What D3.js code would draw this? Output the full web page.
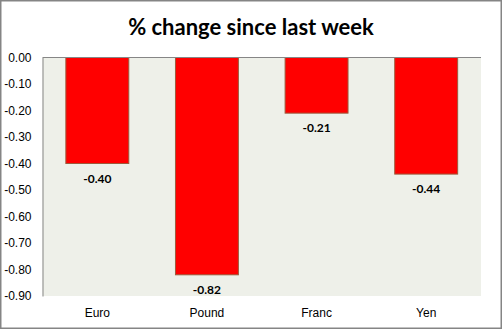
<!DOCTYPE html>
<html>
<head>
<meta charset="utf-8">
<script src="https://cdn.jsdelivr.net/npm/d3@7"></script>
<style>
  html, body { margin: 0; padding: 0; background: #fff; }
  svg { display: block; font-family: Lato, "Open Sans", "Liberation Sans", sans-serif; }
</style>
</head>
<body>
<svg id="chart" width="502" height="329"></svg>
<script>
// Weekly currency moves
const titleText = "% change since last week";
const categories = ["Euro", "Pound", "Franc", "Yen"];
const changes = [-0.40, -0.82, -0.21, -0.44];
const yTicks = [0, -0.1, -0.2, -0.3, -0.4, -0.5, -0.6, -0.7, -0.8, -0.9];

const W = 502, H = 329;
const plot = { left: 42.5, top: 57.5, right: 481, bottom: 296 };

// two decimals with a plain hyphen for negatives
const fmt = v => d3.format(".2f")(v).replace("\u2212", "-");

const svg = d3.select("#chart");

// outer frame
svg.append("rect")
  .attr("x", 0.75).attr("y", 0.75)
  .attr("width", W - 1.5).attr("height", H - 1.5)
  .attr("fill", "#fff").attr("stroke", "#858585").attr("stroke-width", 1.5);

const x = d3.scaleBand()
  .domain(categories)
  .range([plot.left, plot.right])
  .paddingInner(0.426)
  .paddingOuter(0.213);

const y = d3.scaleLinear()
  .domain([0, -0.9])
  .range([plot.top, plot.bottom]);

// plot background
svg.append("rect")
  .attr("x", plot.left).attr("y", plot.top)
  .attr("width", plot.right - plot.left).attr("height", plot.bottom - plot.top)
  .attr("fill", "#eef0e9");

// bars
svg.append("g").selectAll("rect")
  .data(changes)
  .join("rect")
  .attr("x", (d, i) => x(categories[i]))
  .attr("y", y(0))
  .attr("width", x.bandwidth())
  .attr("height", d => y(d) - y(0))
  .attr("fill", "#ff0000")
  .attr("stroke", "#9c5a3c")
  .attr("stroke-width", 1);

// value labels under each bar
svg.append("g").selectAll("text")
  .data(changes)
  .join("text")
  .attr("x", (d, i) => x(categories[i]) + x.bandwidth() / 2)
  .attr("y", d => y(d) + 15)
  .attr("dy", "0.35em")
  .attr("text-anchor", "middle")
  .attr("font-size", 12)
  .attr("font-weight", "bold")
  .attr("fill", "#000")
  .text(d => fmt(d));

// y axis
const yAxis = d3.axisLeft(y)
  .tickValues(yTicks)
  .tickFormat(fmt)
  .tickSize(0)
  .tickPadding(11);

const gy = svg.append("g")
  .attr("transform", `translate(${plot.left},0)`)
  .call(yAxis);
gy.select(".domain").attr("stroke", "#868686");
gy.selectAll("text").attr("font-size", 12).attr("fill", "#000").attr("font-family", "inherit");

// zero line along the top of the plot
svg.append("line")
  .attr("x1", plot.left).attr("x2", plot.right)
  .attr("y1", y(0)).attr("y2", y(0))
  .attr("stroke", "#868686");

// category axis
const xAxis = d3.axisBottom(x).tickSize(0).tickPadding(12);
const gx = svg.append("g")
  .attr("transform", `translate(0,${plot.bottom})`)
  .call(xAxis);
gx.select(".domain").remove();
gx.selectAll("text").attr("font-size", 12).attr("fill", "#000").attr("font-family", "inherit");

// title
svg.append("text")
  .attr("x", 251).attr("y", 27)
  .attr("dy", "0.35em")
  .attr("text-anchor", "middle")
  .attr("font-size", 22)
  .attr("font-weight", "bold")
  .attr("fill", "#000")
  .text(titleText);
</script>
</body>
</html>
